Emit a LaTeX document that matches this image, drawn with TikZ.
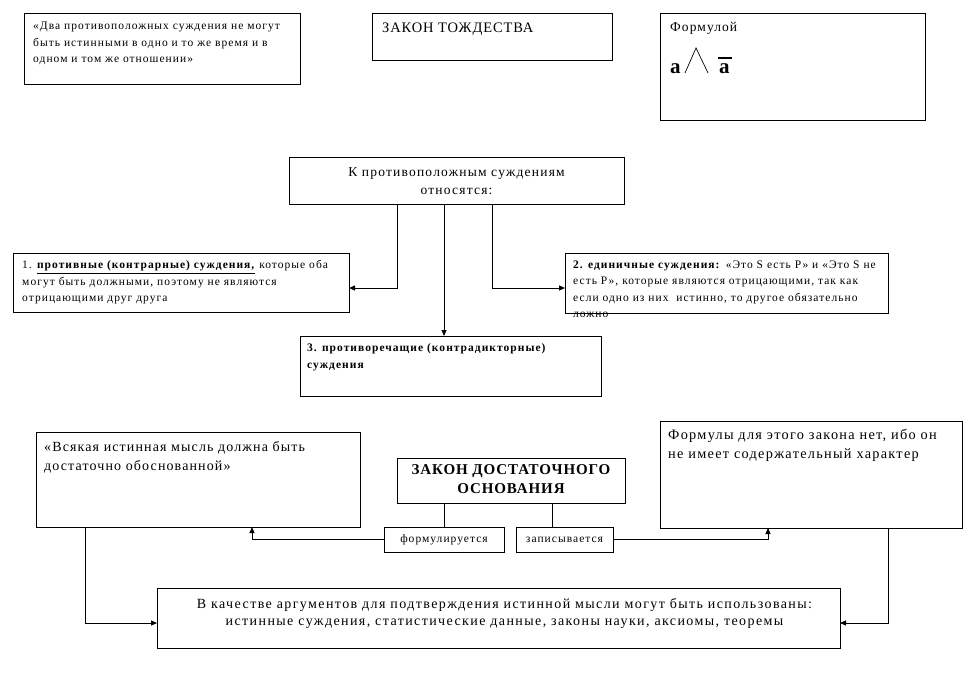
\documentclass[tikz,border=0pt]{standalone}
\usepackage{fontspec}
\setmainfont{Liberation Serif}
\usetikzlibrary{arrows.meta}
\begin{document}
\begin{tikzpicture}[x=1pt,y=-1pt,
  box/.style={draw, line width=0.9pt, anchor=north west, inner sep=0pt, outer sep=0pt},
  txt/.style={anchor=north west, inner sep=0pt, align=left},
  ctxt/.style={anchor=north, inner sep=0pt, align=center},
  conn/.style={line width=0.9pt},
  arr/.style={conn, -{Triangle[length=6pt,width=5pt]}},
  small/.style={font=\fontsize{11.5}{16.5}\selectfont\addfontfeature{LetterSpace=9}},
  smallb/.style={font=\fontsize{11.5}{16.5}\selectfont\bfseries\addfontfeature{LetterSpace=9}},
  mid/.style={font=\fontsize{14}{19}\selectfont\addfontfeature{LetterSpace=8}}]
\useasboundingbox[fill=white] (0,0) rectangle (973,685);
% boxes
\node[box, minimum width=276pt, minimum height=71pt] (tl) at (24,13) {};
\node[box, minimum width=240pt, minimum height=47pt] (tz) at (372,13) {};
\node[box, minimum width=265pt, minimum height=107pt] (fm) at (660,13) {};
\node[box, minimum width=335pt, minimum height=47pt] (ct) at (289,157) {};
\node[box, minimum width=336pt, minimum height=59pt] (b1) at (13,253) {};
\node[box, minimum width=323pt, minimum height=60pt] (b2) at (565,253) {};
\node[box, minimum width=301pt, minimum height=60pt] (b3) at (300,336) {};
\node[box, minimum width=324pt, minimum height=95pt] (lq) at (36,432) {};
\node[box, minimum width=302pt, minimum height=107pt] (rq) at (660,421) {};
\node[box, minimum width=228pt, minimum height=45pt] (zd) at (397,458) {};
\node[box, minimum width=120pt, minimum height=25pt, small] (fo) at (384,527) {формулируется};
\node[box, minimum width=97pt, minimum height=25pt, small] (za) at (516,527) {записывается};
\node[box, minimum width=683pt, minimum height=60pt] (bt) at (157,588) {};
% texts
\node[txt, small] (tlt) at ([xshift=9pt,yshift=-9pt]tl.north west)
  {«Два противоположных суждения не могут\\быть истинными в одно и то же время и в\\одном и том же отношении»};
\node[txt, font=\fontsize{14.5}{18}\selectfont\addfontfeature{LetterSpace=6}] (tzt) at ([xshift=10pt,yshift=-9.5pt]tz.north west) {ЗАКОН ТОЖДЕСТВА};
\node[txt, font=\fontsize{13.5}{18}\selectfont\addfontfeature{LetterSpace=8}] (fmt) at ([xshift=10pt,yshift=-9.5pt]fm.north west) {Формулой};
\node[anchor=base west, inner sep=0pt, font=\fontsize{21}{21}\selectfont\bfseries] (fa) at (670,73) {a};
\node[anchor=base west, inner sep=0pt, font=\fontsize{21}{21}\selectfont\bfseries] (fb) at (719,73) {a};
\draw[line width=0.7pt] (685,73) -- (696,48) -- (708,73);
\draw[line width=1.1pt] (718,58) -- (732,58);
\node[ctxt, font=\fontsize{13.5}{18.5}\selectfont\addfontfeature{LetterSpace=9}] (ctt) at ([yshift=-10pt]ct.north) {К противоположным суждениям\\относятся:};
\node[txt, small] (b1t) at ([xshift=9pt,yshift=-7.5pt]b1.north west)
  {1. \underline{\textbf{противные (контрарные) суждения,}} которые оба\\могут быть должными, поэтому не являются\\отрицающими друг друга};
\node[txt, small] (b2t) at ([xshift=8pt,yshift=-7.5pt]b2.north west)
  {\textbf{2. единичные суждения:} «Это S есть Р» и «Это S не\\есть Р», которые являются отрицающими, так как\\если одно из них\ \ истинно, то другое обязательно\\ложно};
\node[txt, smallb] (b3t) at ([xshift=7pt,yshift=-7.5pt]b3.north west)
  {3. противоречащие (контрадикторные)\\суждения};
\node[ctxt, font=\fontsize{15}{19}\selectfont\bfseries\addfontfeature{LetterSpace=6}] (zdt) at ([yshift=-6.5pt]zd.north) {ЗАКОН ДОСТАТОЧНОГО\\ОСНОВАНИЯ};
\node[txt, mid] (lqt) at ([xshift=8pt,yshift=-9pt]lq.north west)
  {«Всякая истинная мысль должна быть\\достаточно обоснованной»};
\node[txt, font=\fontsize{14.3}{19}\selectfont\addfontfeature{LetterSpace=9}] (rqt) at ([xshift=8pt,yshift=-8pt]rq.north west)
  {Формулы для этого закона нет, ибо он\\не имеет содержательный характер};
\node[ctxt, font=\fontsize{14}{17.5}\selectfont\addfontfeature{LetterSpace=10}] (btt) at ([xshift=6pt,yshift=-10pt]bt.north)
  {В качестве аргументов для подтверждения истинной мысли могут быть использованы:\\истинные суждения, статистические данные, законы науки, аксиомы, теоремы};
% connectors
\draw[arr] ([xshift=108pt]ct.south west) |- ([yshift=-5.5pt]b1.east);
\draw[arr] ([xshift=155pt]ct.south west) -- ([xshift=155pt]ct.south west |- b3.north);
\draw[arr] ([xshift=203pt]ct.south west) |- ([yshift=-5pt]b2.west);
\draw[conn] ([xshift=47pt]zd.south west) -- ([xshift=47pt]zd.south west |- fo.north);
\draw[conn] ([xshift=155pt]zd.south west) -- ([xshift=155pt]zd.south west |- za.north);
\draw[arr] (fo.west) -| ([xshift=216pt]lq.south west);
\draw[arr] (za.east) -| ([xshift=108pt]rq.south west);
\draw[arr] ([xshift=49pt]lq.south west) |- ([yshift=-5pt]bt.west);
\draw[arr] ([xshift=228pt]rq.south west) |- ([yshift=-5pt]bt.east);
\end{tikzpicture}
\end{document}
